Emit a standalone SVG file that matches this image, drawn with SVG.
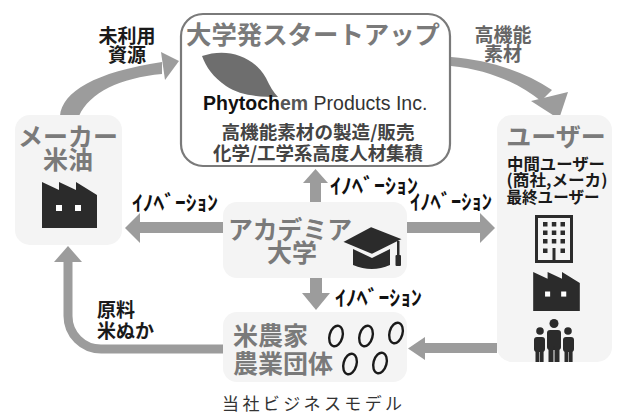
<svg xmlns="http://www.w3.org/2000/svg" width="617" height="415" viewBox="0 0 617 415">
<defs>
<style>
.jp{font-family:"Noto Sans CJK JP","Noto Sans",sans-serif;}
.big{font-weight:700;fill:#7a7a7a;font-size:25px;}
.lbl{font-weight:700;fill:#1a1a1a;font-size:19px;}
.sub{font-weight:700;fill:#444;font-size:18px;}
.usr{font-weight:700;fill:#1a1a1a;font-size:16px;}
.inno{font-weight:700;fill:#111;font-size:21px;}
.box{fill:#f4f4f4;}
.arrow{fill:#9c9c9c;}
.icon{fill:#2b2b2b;}
</style>
<symbol id="factory" viewBox="0 0 55 46"><path d="M0,46 V0 L17,8 V0 L34,8 V0 L55,13 V46 Z"/><rect x="14" y="23" width="6" height="6" fill="#fff"/><rect x="33" y="23" width="6" height="6" fill="#fff"/></symbol>
<symbol id="grain" viewBox="-9 -13 18 26"><ellipse cx="0" cy="0" rx="6.5" ry="10.5" transform="rotate(15)" fill="none" stroke="#1a1a1a" stroke-width="2.4"/></symbol>
</defs>
<rect width="617" height="415" fill="#fff"/>

<g id="connectors">
<path class="arrow" d="M60,116 C62,92 95,72 162,62 L162,74 C120,78 90,92 79,116 Z"/>
<polygon class="arrow" points="161,52 179,61 165,80"/>
<path class="arrow" d="M451,57 C490,60 525,72 552,90 L541,101 C520,84 490,70 451,66 Z"/>
<polygon class="arrow" points="531,101 568,92 559,119"/>
<rect class="arrow" x="310" y="181" width="11" height="21"/>
<polygon class="arrow" points="303,183 328,183 315.5,169"/>
<rect class="arrow" x="139" y="222" width="84" height="11"/>
<polygon class="arrow" points="140,213 140,243 125,228"/>
<rect class="arrow" x="407" y="222" width="74" height="11"/>
<polygon class="arrow" points="480,213 480,243 495,228"/>
<rect class="arrow" x="310" y="278" width="12" height="16"/>
<polygon class="arrow" points="302,293 330,293 316,310"/>
<rect class="arrow" x="424" y="343" width="73" height="10"/>
<polygon class="arrow" points="425,337 425,360 408,348.5"/>
<path d="M223,349 H101 A33,33 0 0 1 68,316 V260" fill="none" stroke="#9c9c9c" stroke-width="9"/>
<polygon class="arrow" points="54,262 82,262 68,246"/>
<text class="jp lbl" x="127" y="43" text-anchor="middle">未利用</text>
<text class="jp lbl" x="127" y="62" text-anchor="middle">資源</text>
<text class="jp lbl" x="503" y="42" text-anchor="middle" style="fill:#666">高機能</text>
<text class="jp lbl" x="503" y="61" text-anchor="middle" style="fill:#666">素材</text>
<text class="jp lbl" x="97" y="317">原料</text>
<text class="jp lbl" x="97" y="338">米ぬか</text>
<text class="jp inno" x="330" y="193" textLength="88" lengthAdjust="spacingAndGlyphs">ｲﾉﾍﾞｰｼｮﾝ</text>
<text class="jp inno" x="132" y="210" textLength="86" lengthAdjust="spacingAndGlyphs">ｲﾉﾍﾞｰｼｮﾝ</text>
<text class="jp inno" x="410" y="209" textLength="82" lengthAdjust="spacingAndGlyphs">ｲﾉﾍﾞｰｼｮﾝ</text>
<text class="jp inno" x="335" y="305" textLength="87" lengthAdjust="spacingAndGlyphs">ｲﾉﾍﾞｰｼｮﾝ</text>
</g>

<g id="startup">
<rect x="181" y="14" width="269" height="152" rx="22" fill="#fff" stroke="#7a7a7a" stroke-width="2.2"/>
<text class="jp big" x="313" y="44" text-anchor="middle" textLength="254" lengthAdjust="spacingAndGlyphs">大学発スタートアップ</text>
<path d="M202,56 C225,48 252,54 266,78 C270,86 273,92 278,97 C262,97 240,96 226,86 C213,77 206,67 202,56 Z" fill="#6e6e6e"/>
<text x="203" y="110" font-family="'Liberation Sans',Arial,sans-serif" font-size="19.5" fill="#333"><tspan font-weight="700" fill="#111">Phytoch</tspan><tspan font-weight="700" fill="#555">em</tspan> Products Inc.</text>
<text class="jp sub" x="318" y="139" text-anchor="middle" textLength="193" lengthAdjust="spacingAndGlyphs">高機能素材の製造/販売</text>
<text class="jp sub" x="318" y="160" text-anchor="middle" textLength="210" lengthAdjust="spacingAndGlyphs">化学/工学系高度人材集積</text>
</g>

<g id="maker">
<rect class="box" x="15" y="115" width="107" height="130" rx="15"/>
<text class="jp big" x="68" y="146" text-anchor="middle">メーカー</text>
<text class="jp big" x="68" y="169" text-anchor="middle">米油</text>
<use href="#factory" class="icon" x="42" y="182" width="55" height="46"/>
</g>

<g id="users">
<rect class="box" x="497" y="115" width="115" height="247" rx="15"/>
<text class="jp big" x="556" y="146" text-anchor="middle">ユーザー</text>
<text class="jp usr" x="556" y="170" text-anchor="middle" textLength="98" lengthAdjust="spacingAndGlyphs">中間ユーザー</text>
<text class="jp usr" x="557" y="186" text-anchor="middle" textLength="101" lengthAdjust="spacingAndGlyphs">(商社,メーカ)</text>
<text class="jp usr" x="553" y="203" text-anchor="middle" textLength="93" lengthAdjust="spacingAndGlyphs">最終ユーザー</text>
<g class="icon">
<rect x="536.5" y="216.5" width="35" height="45" fill="none" stroke="#2b2b2b" stroke-width="3"/>
<rect x="543" y="222" width="4.5" height="4.5"/><rect x="551.8" y="222" width="4.5" height="4.5"/><rect x="560.5" y="222" width="4.5" height="4.5"/>
<rect x="543" y="230.5" width="4.5" height="4.5"/><rect x="551.8" y="230.5" width="4.5" height="4.5"/><rect x="560.5" y="230.5" width="4.5" height="4.5"/>
<rect x="543" y="239" width="4.5" height="4.5"/><rect x="551.8" y="239" width="4.5" height="4.5"/><rect x="560.5" y="239" width="4.5" height="4.5"/>
<rect x="543" y="248.5" width="4.5" height="4.5"/><rect x="560.5" y="248.5" width="4.5" height="4.5"/>
<rect x="552.5" y="248" width="3" height="13"/>
</g>
<use href="#factory" class="icon" x="533" y="272" width="47" height="39"/>
<g class="icon">
<circle cx="554" cy="323.5" r="4.5"/>
<rect x="547" y="330" width="14" height="20" rx="3"/>
<rect x="548.5" y="346" width="5" height="16"/><rect x="554.5" y="346" width="5" height="16"/>
<circle cx="540" cy="331" r="3.8"/>
<rect x="534" y="337" width="11" height="15" rx="3"/>
<rect x="535.5" y="349" width="3.8" height="13"/><rect x="539.8" y="349" width="3.8" height="13"/>
<circle cx="568" cy="331" r="3.8"/>
<rect x="563" y="337" width="11" height="15" rx="3"/>
<rect x="564.5" y="349" width="3.8" height="13"/><rect x="568.8" y="349" width="3.8" height="13"/>
</g>
</g>

<g id="academia">
<rect class="box" x="223" y="202" width="184" height="76" rx="14"/>
<text class="jp big" x="290" y="239" text-anchor="middle" textLength="124" lengthAdjust="spacingAndGlyphs">アカデミア</text>
<text class="jp big" x="292" y="262" text-anchor="middle">大学</text>
<g class="icon">
<path d="M353,249 L372,258 L390,249 V265 Q372,273 353,265 Z"/>
<polygon points="341,242 371,226 404,239 372,255" stroke="#f4f4f4" stroke-width="2"/>
<rect x="397" y="241" width="2.5" height="16"/>
<rect x="395.5" y="255" width="5.5" height="11" rx="1"/>
</g>
</g>

<g id="farmers">
<rect class="box" x="223" y="312" width="184" height="70" rx="14"/>
<text class="jp big" x="233" y="345">米農家</text>
<text class="jp big" x="233" y="373">農業団体</text>
<use href="#grain" x="327" y="323" width="18" height="26"/>
<use href="#grain" x="357" y="323" width="18" height="26"/>
<use href="#grain" x="387" y="320" width="18" height="26"/>
<use href="#grain" x="341" y="351" width="18" height="26"/>
<use href="#grain" x="371" y="350" width="18" height="26"/>
</g>

<text class="jp" x="222" y="410" font-size="17" fill="#333" textLength="180" lengthAdjust="spacing">当社ビジネスモデル</text>
</svg>
